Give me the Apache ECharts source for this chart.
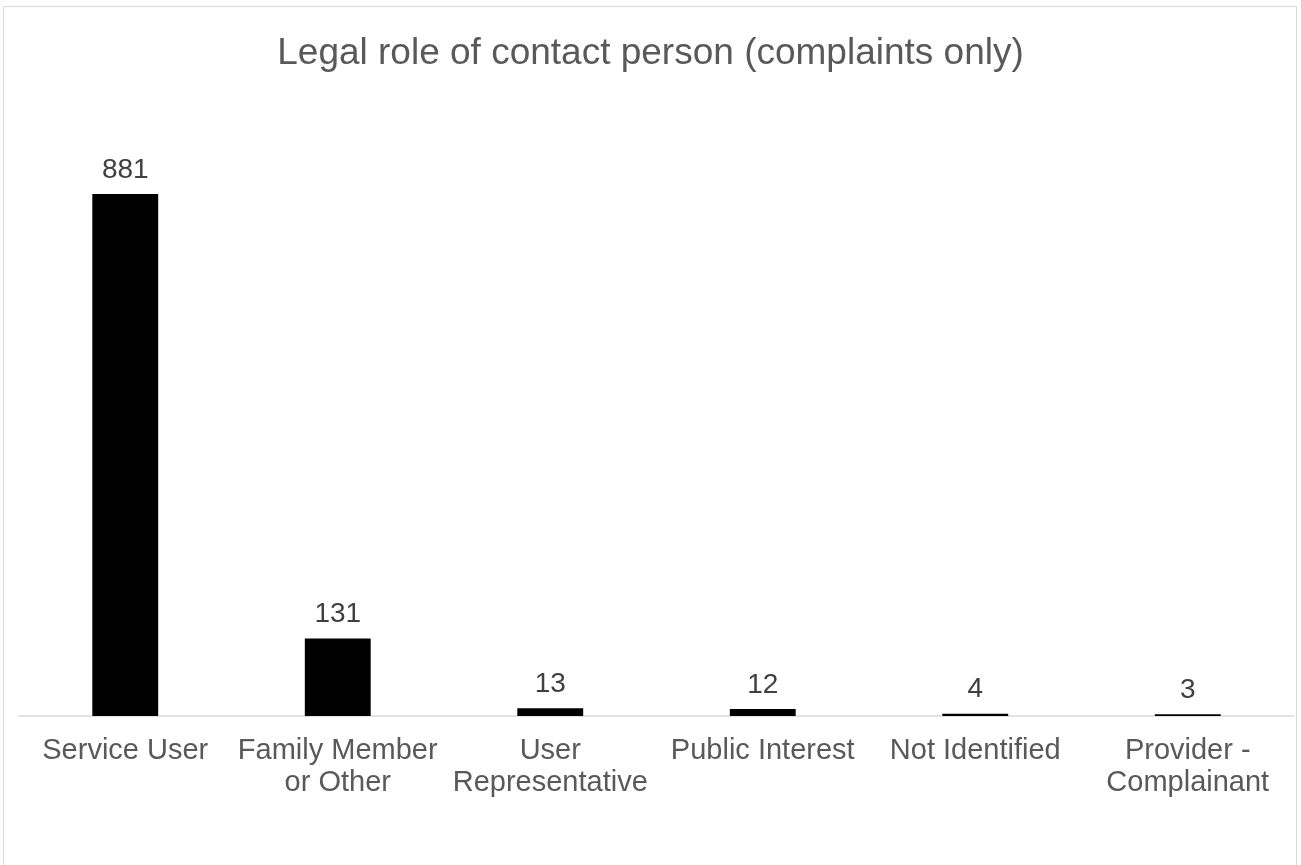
<!DOCTYPE html>
<html><head><meta charset="utf-8">
<script src="https://cdn.jsdelivr.net/npm/echarts@6/dist/echarts.min.js"></script>
<style>html,body{margin:0;padding:0;background:#fff}#c{width:1301px;height:865px}</style>
</head><body><div id="c"></div>
<script>
var categories = ['Service User','Family Member\nor Other','User\nRepresentative','Public Interest','Not Identified','Provider -\nComplainant'];
var values = [881,131,13,12,4,3];
var titleText = 'Legal role of contact person (complaints only)';
var chart = echarts.init(document.getElementById('c'));
chart.setOption({
  animation:false,
  backgroundColor:'#fff',
  title:{text:titleText,left:'center',top:30,textStyle:{fontFamily:'Liberation Sans',fontSize:37,fontWeight:'normal',color:'#595959'}},
  graphic:[{type:'rect',shape:{x:3.5,y:6.5,width:1293,height:900},style:{fill:'none',stroke:'#d9d9d9',lineWidth:1},silent:true}],
  grid:{left:19,right:7,top:194,bottom:149},
  xAxis:{type:'category',data:categories,axisTick:{show:false},
    axisLine:{lineStyle:{color:'#d9d9d9',width:1.5}},
    axisLabel:{interval:0,margin:19,fontFamily:'Liberation Sans',fontSize:29,color:'#595959',lineHeight:32}},
  yAxis:{type:'value',min:0,max:881,show:false,splitLine:{show:false}},
  series:[{type:'bar',data:values,barWidth:'31%',itemStyle:{color:'#000'},
    label:{show:true,position:'top',distance:10,fontFamily:'Liberation Sans',fontSize:28,color:'#404040'}}]
});
</script></body></html>
